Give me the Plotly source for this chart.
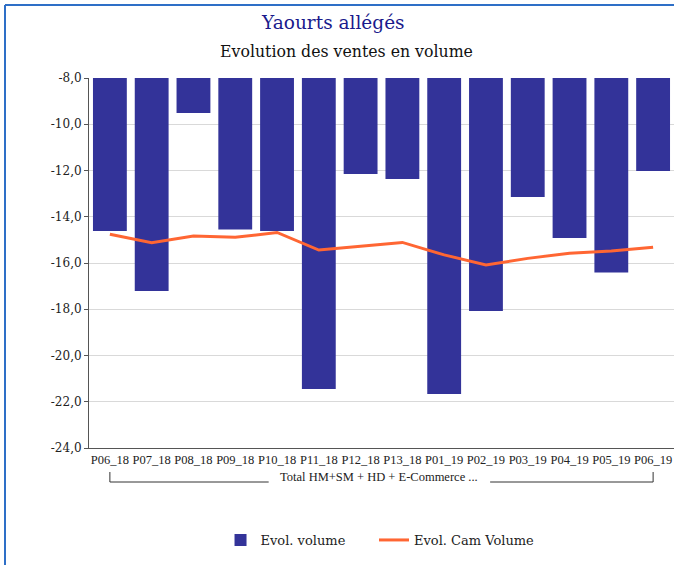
import plotly.graph_objects as go

categories = ["P06_18", "P07_18", "P08_18", "P09_18", "P10_18", "P11_18", "P12_18",
              "P13_18", "P01_19", "P02_19", "P03_19", "P04_19", "P05_19", "P06_19"]
evol_volume = [-14.62, -17.21, -9.51, -14.55, -14.62, -21.45, -12.15,
               -12.37, -21.66, -18.08, -13.15, -14.92, -16.41, -12.02]
evol_cam_volume = [-14.76, -15.12, -14.83, -14.89, -14.68, -15.44, -15.28,
                   -15.11, -15.65, -16.09, -15.80, -15.58, -15.48, -15.32]
y_tickvals = [-24, -22, -20, -18, -16, -14, -12, -10, -8]
y_ticktext = ["-24,0", "-22,0", "-20,0", "-18,0", "-16,0", "-14,0", "-12,0", "-10,0", "-8,0"]
group_label = "Total HM+SM + HD + E-Commerce ..."

W, H = 674, 565
L, R, T, B = 89, 0, 78, 117
pw, ph = W - L - R, H - T - B

def px(xp):
    return (xp - L) / pw

def py(yp):
    return (H - B - yp) / ph

serif = "DejaVu Serif"
times = "Liberation Serif"

fig = go.Figure()
fig.add_trace(go.Bar(x=categories, y=evol_volume, name="Evol. volume",
                     marker=dict(color="#333399", line=dict(width=0)), legend="legend"))
fig.add_trace(go.Scatter(x=categories, y=evol_cam_volume, name="Evol. Cam Volume",
                         mode="lines", line=dict(color="#ff6633", width=3), legend="legend2"))

shapes = []
# outer border
shapes.append(dict(type="line", xref="paper", yref="paper", x0=px(5), x1=px(5), y0=py(5), y1=py(566),
                   line=dict(color="#2e6fc7", width=2)))
shapes.append(dict(type="line", xref="paper", yref="paper", x0=px(5), x1=px(676), y0=py(5), y1=py(5),
                   line=dict(color="#2e6fc7", width=2)))
# group bracket
by_top, by_bot = py(472), py(482)
shapes.append(dict(type="line", xref="x", yref="paper", x0=0, x1=0, y0=by_top, y1=by_bot,
                   line=dict(color="#333333", width=1)))
shapes.append(dict(type="line", xref="x", yref="paper", x0=13, x1=13, y0=by_top, y1=by_bot,
                   line=dict(color="#333333", width=1)))
shapes.append(dict(type="line", xref="x", yref="paper", x0=0, x1=3.8, y0=by_bot, y1=by_bot,
                   line=dict(color="#333333", width=1)))
shapes.append(dict(type="line", xref="x", yref="paper", x0=9.1, x1=13, y0=by_bot, y1=by_bot,
                   line=dict(color="#333333", width=1)))

annotations = [
    dict(text="Yaourts allégés", xref="paper", yref="paper", x=px(333), y=py(22),
         showarrow=False, font=dict(family=serif, size=18.5, color="#1a1a8c"),
         xanchor="center", yanchor="middle"),
    dict(text="Evolution des ventes en volume", xref="paper", yref="paper", x=px(346), y=py(51),
         showarrow=False, font=dict(family=serif, size=15.75, color="#111111"),
         xanchor="center", yanchor="middle"),
    dict(text=group_label, xref="x", yref="paper", x=6.43, y=py(477),
         showarrow=False, font=dict(family=times, size=12.5, color="#222222"),
         xanchor="center", yanchor="middle"),
]

legend_font = dict(family=serif, size=13, color="#222222")
fig.update_layout(
    width=W, height=H,
    margin=dict(l=L, r=R, t=T, b=B, pad=0),
    paper_bgcolor="white", plot_bgcolor="white",
    bargap=0.19,
    showlegend=True,
    legend=dict(orientation="h", x=px(241) - 0.035, y=py(540), xanchor="left", yanchor="middle",
                font=legend_font, itemwidth=30),
    legend2=dict(orientation="h", x=px(374), y=py(540), xanchor="left", yanchor="middle",
                 font=legend_font, itemwidth=30),
    shapes=shapes,
    annotations=annotations,
    xaxis=dict(type="category", range=[-0.5, 13.5], showgrid=False, showline=True,
               linecolor="#555555", linewidth=1, ticks="",
               tickfont=dict(family=times, size=12.5, color="#222222"), tickangle=0),
    yaxis=dict(range=[-24, -8], tickvals=y_tickvals, ticktext=y_ticktext,
               showgrid=True, gridcolor="#d9d9d9", gridwidth=1, zeroline=False,
               showline=True, linecolor="#555555", linewidth=1,
               ticks="outside", ticklen=4, tickcolor="#555555",
               tickfont=dict(family=serif, size=12, color="#222222")),
)

fig.write_html("out.html", config={"displayModeBar": False},
               post_script="document.body.style.margin='0';document.body.style.overflow='hidden';")
